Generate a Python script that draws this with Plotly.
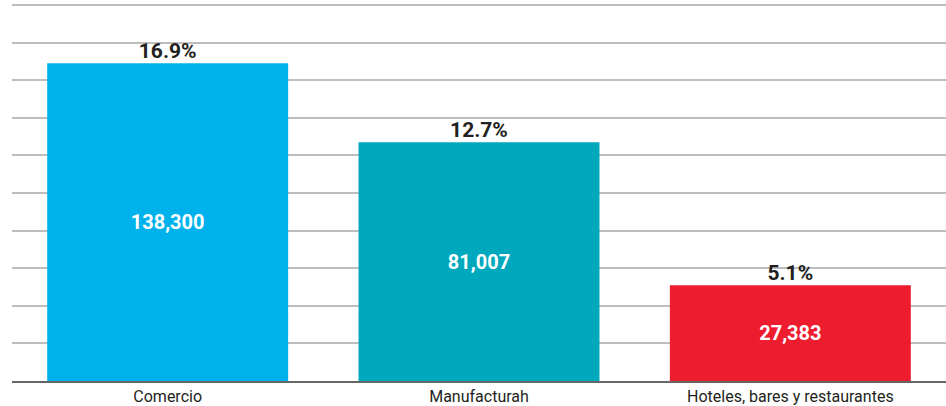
import plotly.graph_objects as go

categories = ["Comercio", "Manufacturah", "Hoteles, bares y restaurantes"]
percentages = [16.9, 12.7, 5.1]
counts = [138300, 81007, 27383]
colors = ["#00B2EC", "#00A8BD", "#ED1C2E"]

count_labels = [f"{c:,}" for c in counts]
pct_labels = [f"{p}%" for p in percentages]

fig = go.Figure()
fig.add_trace(go.Bar(
    x=categories, y=percentages,
    marker=dict(color=colors, line=dict(width=0)),
    text=count_labels, textposition="inside", insidetextanchor="middle",
    textfont=dict(family="Roboto", size=20, color="white", weight="bold"),
    textangle=0,
    hoverinfo="skip",
))
fig.add_trace(go.Scatter(
    x=categories, y=percentages, mode="text",
    text=pct_labels, textposition="top center",
    textfont=dict(family="Roboto", size=21, color="#231F20", weight="bold"),
    hoverinfo="skip",
))

fig.update_layout(
    width=946, height=406,
    margin=dict(l=12, r=0, t=0, b=25),
    paper_bgcolor="white", plot_bgcolor="white",
    showlegend=False,
    bargap=0.226,
    font=dict(family="Roboto", color="#231F20"),
)
fig.update_xaxes(
    showline=True, linecolor="#666666", linewidth=2,
    ticks="", tickfont=dict(family="Roboto", size=16, color="#231F20"),
    showgrid=False,
)
fig.update_yaxes(
    range=[0, 20.27], tickvals=[2, 4, 6, 8, 10, 12, 14, 16, 18, 20],
    showticklabels=False,
    showgrid=True, gridcolor="#BDBDBD", gridwidth=1.5,
    zeroline=False,
)
fig.write_html("out.html", config={"displayModeBar": False},
               post_script="document.body.style.margin='0';")
